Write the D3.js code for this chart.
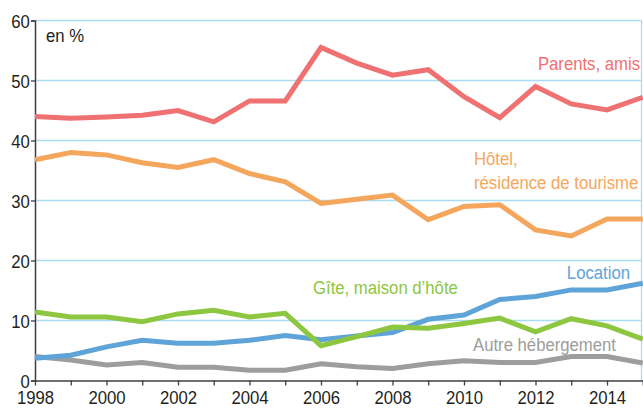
<!DOCTYPE html>
<html>
<head>
<meta charset="utf-8">
<script src="https://cdn.jsdelivr.net/npm/d3@7"></script>
<style>
  body { margin: 0; background: #fff; }
  text { font-family: 'Liberation Sans', Arial, sans-serif; }
</style>
</head>
<body>
<svg></svg>
<script>
const years = [1998, 1999, 2000, 2001, 2002, 2003, 2004, 2005, 2006, 2007, 2008, 2009, 2010, 2011, 2012, 2013, 2014, 2015]
const parentsAmis = [44.0, 43.7, 43.9, 44.2, 45.0, 43.1, 46.6, 46.6, 55.5, 52.9, 50.9, 51.8, 47.3, 43.8, 49.0, 46.1, 45.1, 47.2]
const hotel = [36.8, 38.0, 37.6, 36.3, 35.5, 36.8, 34.5, 33.1, 29.5, 30.2, 30.9, 26.8, 29.0, 29.3, 25.1, 24.1, 26.9, 26.9]
const location_ = [3.7, 4.2, 5.6, 6.7, 6.2, 6.2, 6.7, 7.5, 6.8, 7.4, 8.0, 10.2, 10.9, 13.5, 14.0, 15.1, 15.1, 16.2]
const gite = [11.4, 10.6, 10.6, 9.8, 11.1, 11.7, 10.6, 11.2, 5.8, 7.3, 8.9, 8.7, 9.5, 10.4, 8.1, 10.3, 9.1, 6.9]
const autre = [4.0, 3.4, 2.6, 3.0, 2.2, 2.2, 1.7, 1.7, 2.8, 2.3, 2.0, 2.8, 3.3, 3.0, 3.0, 4.0, 4.0, 2.9]
const yTicks = [0, 10, 20, 30, 40, 50, 60]
const xLabels = [1998, 2000, 2002, 2004, 2006, 2008, 2010, 2012, 2014]

const series = [
  { name: 'Autre hébergement', values: autre, color: '#9d9d9c' },
  { name: 'Location', values: location_, color: '#5ea4d8' },
  { name: 'Gîte, maison d’hôte', values: gite, color: '#8dc63f' },
  { name: 'Hôtel', values: hotel, color: '#f5a65d' },
  { name: 'Parents, amis', values: parentsAmis, color: '#ef7171' },
]

const svgWidth = 643
const svgHeight = 408
const narrow = 0.88 // fake condensed face
const svg = d3.select('svg')
  .attr('width', svgWidth)
  .attr('height', svgHeight)

const xScale = d3.scaleLinear()
  .domain([1998, 2015])
  .range([35, 642.75])

const yScale = d3.scaleLinear()
  .domain([0, 60])
  .range([380.5, 20.5])

// light blue grid + frame
svg.selectAll('line.grid')
  .data(yTicks.filter(d => d > 0))
  .enter()
  .append('line')
  .attr('class', 'grid')
  .attr('x1', xScale(1998))
  .attr('x2', 641.5)
  .attr('y1', d => yScale(d))
  .attr('y2', d => yScale(d))
  .attr('stroke', '#a9dcf2')
  .attr('stroke-width', 1.3)

svg.append('line')
  .attr('x1', 641.5).attr('x2', 641.5)
  .attr('y1', yScale(60)).attr('y2', yScale(0))
  .attr('stroke', '#a9dcf2')
  .attr('stroke-width', 1.3)

// y axis
const yAxis = svg.append('g')
  .attr('transform', `translate(${xScale(1998)},0)`)
  .call(d3.axisLeft(yScale).tickValues(yTicks).tickSize(4).tickPadding(2))
yAxis.select('.domain').attr('stroke', '#3c3f45').attr('stroke-width', 1.5)
yAxis.selectAll('.tick line').attr('stroke', '#3c3f45').attr('stroke-width', 1.3)
yAxis.selectAll('text')
  .attr('font-size', 19)
  .attr('fill', '#231f20')
  .attr('dy', '0.36em')
  .attr('transform', `scale(${narrow},1)`)

// x axis
const xAxis = svg.append('g')
  .attr('transform', `translate(0,${yScale(0)})`)
  .call(d3.axisBottom(xScale).tickValues(years).tickSize(5).tickSizeOuter(0).tickFormat(d => xLabels.includes(d) ? d : ''))
xAxis.select('.domain').attr('stroke', '#3c3f45').attr('stroke-width', 1.5)
xAxis.selectAll('.tick line').attr('stroke', '#3c3f45').attr('stroke-width', 1.3)
xAxis.selectAll('text')
  .attr('font-size', 19)
  .attr('fill', '#231f20')
  .attr('y', 10)
  .attr('transform', `scale(${narrow},1)`)

const line = d3.line()
  .x((d, i) => xScale(years[i]))
  .y(d => yScale(d))

svg.selectAll('path.serie')
  .data(series)
  .enter()
  .append('path')
  .attr('class', 'serie')
  .attr('d', d => line(d.values))
  .attr('fill', 'none')
  .attr('stroke', d => d.color)
  .attr('stroke-width', 5)
  .attr('stroke-linejoin', 'miter')

const labels = [
  { text: 'en %', x: 46, y: 42, anchor: 'start', color: '#231f20' },
  { text: 'Parents, amis', x: 640, y: 70, anchor: 'end', color: '#ef7171' },
  { text: 'Hôtel,', x: 474, y: 165, anchor: 'start', color: '#f5a65d' },
  { text: 'résidence de tourisme', x: 474, y: 189, anchor: 'start', color: '#f5a65d' },
  { text: 'Location', x: 630, y: 279, anchor: 'end', color: '#5ea4d8' },
  { text: 'Gîte, maison d’hôte', x: 313, y: 294, anchor: 'start', color: '#8dc63f' },
  { text: 'Autre hébergement', x: 473, y: 351, anchor: 'start', color: '#9d9d9c' },
]

svg.selectAll('text.lbl')
  .data(labels)
  .enter()
  .append('text')
  .attr('class', 'lbl')
  .attr('transform', d => `translate(${d.x},${d.y}) scale(${narrow},1)`)
  .attr('text-anchor', d => d.anchor)
  .attr('fill', d => d.color)
  .attr('font-size', 19)
  .text(d => d.text)
</script>
</body>
</html>
